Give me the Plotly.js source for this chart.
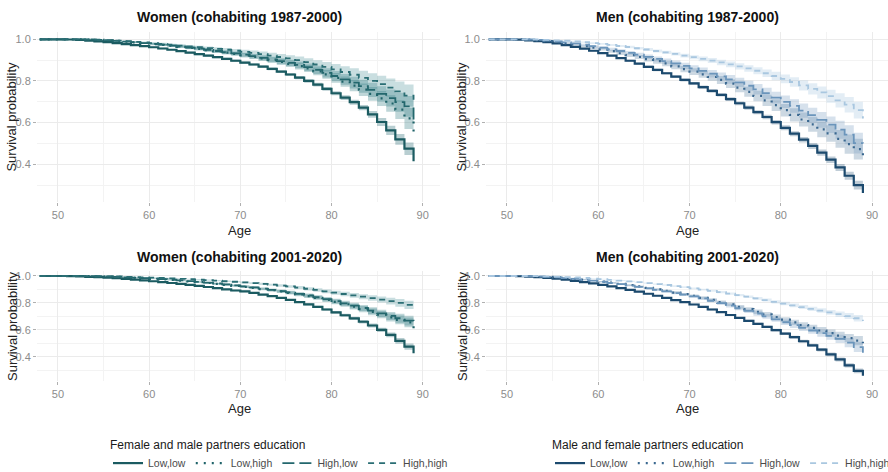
<!DOCTYPE html>
<html>
<head>
<meta charset="utf-8">
<script src="https://cdn.plot.ly/plotly-3.0.1.min.js"></script>
<style>
  html, body { margin: 0; padding: 0; background: #ffffff; }
  #chart { width: 888px; height: 472px; }
</style>
</head>
<body>
<div id="chart"></div>
<script>
// Age grid (years) at which the Kaplan-Meier steps are recorded
const AGES = [48,49,50,51,52,53,54,55,56,57,58,59,60,61,62,63,64,65,66,67,68,69,
              70,71,72,73,74,75,76,77,78,79,80,81,82,83,84,85,86,87,88,89];

const GROUPS = ['Low,low', 'Low,high', 'High,low', 'High,high'];

const PANEL_TITLES = ['Women (cohabiting 1987-2000)', 'Men (cohabiting 1987-2000)',
                      'Women (cohabiting 2001-2020)', 'Men (cohabiting 2001-2020)'];
const WOMEN_LEGEND_TITLE = 'Female and male partners education';
const MEN_LEGEND_TITLE = 'Male and female partners education';
const X_TITLE = 'Age';
const Y_TITLE = 'Survival probability';

// ---- Women, cohabiting 1987-2000: survival and 95% CI half-width ----
const women8700_lowlow = [1,1,1,0.999,0.997,0.994,0.99,0.986,0.982,0.977,0.972,0.967,0.962,0.956,0.95,0.943,0.936,0.929,0.922,0.914,0.906,0.897,0.888,0.879,0.869,0.858,0.845,0.831,0.816,0.8,0.782,0.762,0.741,0.72,0.698,0.672,0.64,0.603,0.563,0.52,0.475,0.415];
const women8700_lowlow_ci = [0,0,0,0.001,0.001,0.001,0.002,0.002,0.002,0.003,0.003,0.003,0.003,0.004,0.004,0.004,0.004,0.005,0.005,0.005,0.005,0.006,0.006,0.006,0.006,0.007,0.007,0.007,0.008,0.008,0.009,0.009,0.01,0.011,0.012,0.013,0.016,0.019,0.022,0.026,0.03,0.033];
const women8700_lowhigh = [1,1,1,1,1,0.999,0.997,0.995,0.992,0.989,0.985,0.981,0.977,0.973,0.969,0.964,0.959,0.954,0.948,0.942,0.936,0.93,0.923,0.916,0.908,0.9,0.891,0.882,0.871,0.86,0.846,0.832,0.815,0.797,0.778,0.758,0.738,0.716,0.692,0.662,0.62,0.555];
const women8700_lowhigh_ci = [0,0,0,0,0,0.001,0.002,0.002,0.003,0.003,0.004,0.004,0.005,0.005,0.006,0.006,0.007,0.007,0.008,0.008,0.009,0.009,0.01,0.011,0.012,0.013,0.014,0.015,0.016,0.017,0.019,0.021,0.023,0.025,0.027,0.03,0.033,0.036,0.04,0.045,0.05,0.055];
const women8700_highlow = [1,1,1,1,1,0.999,0.997,0.995,0.992,0.989,0.986,0.982,0.978,0.974,0.97,0.965,0.96,0.955,0.95,0.944,0.938,0.932,0.926,0.919,0.911,0.903,0.895,0.887,0.877,0.866,0.853,0.839,0.824,0.808,0.792,0.775,0.757,0.738,0.718,0.698,0.678,0.6];
const women8700_highlow_ci = [0,0,0,0,0,0.001,0.002,0.002,0.003,0.003,0.004,0.004,0.005,0.005,0.006,0.006,0.007,0.007,0.008,0.008,0.009,0.009,0.01,0.011,0.012,0.013,0.014,0.015,0.016,0.018,0.02,0.022,0.024,0.026,0.028,0.031,0.034,0.037,0.041,0.046,0.05,0.055];
const women8700_highhigh = [1,1,1,1,1,0.999,0.998,0.996,0.994,0.991,0.988,0.985,0.982,0.978,0.974,0.97,0.966,0.962,0.958,0.954,0.95,0.945,0.94,0.935,0.929,0.922,0.915,0.908,0.9,0.89,0.879,0.868,0.856,0.843,0.83,0.815,0.8,0.785,0.768,0.75,0.73,0.71];
const women8700_highhigh_ci = [0,0,0,0,0,0.001,0.001,0.002,0.002,0.003,0.003,0.004,0.004,0.005,0.005,0.006,0.006,0.007,0.007,0.008,0.008,0.009,0.01,0.011,0.012,0.013,0.014,0.015,0.017,0.019,0.021,0.023,0.025,0.028,0.031,0.034,0.037,0.04,0.044,0.048,0.053,0.058];

// ---- Men, cohabiting 1987-2000 ----
const men8700_lowlow = [1,1,1,0.998,0.995,0.991,0.986,0.98,0.972,0.964,0.955,0.945,0.934,0.922,0.91,0.897,0.883,0.868,0.853,0.837,0.821,0.805,0.788,0.77,0.752,0.733,0.713,0.693,0.672,0.65,0.627,0.602,0.575,0.547,0.518,0.488,0.456,0.422,0.385,0.345,0.3,0.262];
const men8700_lowlow_ci = [0,0,0,0.001,0.001,0.002,0.002,0.002,0.003,0.003,0.003,0.004,0.004,0.004,0.005,0.005,0.005,0.006,0.006,0.006,0.007,0.007,0.007,0.008,0.008,0.008,0.009,0.009,0.01,0.01,0.011,0.011,0.012,0.012,0.013,0.014,0.015,0.016,0.017,0.019,0.021,0.024];
const men8700_lowhigh = [1,1,1,1,0.998,0.995,0.991,0.986,0.98,0.974,0.967,0.96,0.952,0.943,0.933,0.924,0.915,0.905,0.895,0.884,0.87,0.857,0.845,0.832,0.819,0.805,0.787,0.768,0.748,0.728,0.707,0.684,0.66,0.637,0.615,0.592,0.568,0.548,0.522,0.497,0.473,0.415];
const men8700_lowhigh_ci = [0,0,0,0,0.001,0.002,0.002,0.003,0.004,0.004,0.005,0.006,0.006,0.007,0.008,0.009,0.01,0.011,0.012,0.013,0.014,0.015,0.016,0.017,0.018,0.019,0.021,0.022,0.024,0.025,0.027,0.028,0.03,0.032,0.034,0.036,0.038,0.04,0.043,0.046,0.05,0.055];
const men8700_highlow = [1,1,1,1,0.999,0.997,0.994,0.99,0.985,0.98,0.974,0.967,0.96,0.952,0.944,0.935,0.926,0.916,0.906,0.895,0.884,0.872,0.86,0.848,0.835,0.822,0.808,0.793,0.777,0.76,0.741,0.72,0.7,0.68,0.658,0.636,0.613,0.59,0.566,0.542,0.502,0.5];
const men8700_highlow_ci = [0,0,0,0,0.001,0.002,0.002,0.003,0.004,0.004,0.005,0.006,0.006,0.007,0.008,0.009,0.01,0.011,0.012,0.013,0.014,0.015,0.016,0.017,0.018,0.019,0.021,0.022,0.024,0.025,0.027,0.028,0.03,0.032,0.034,0.036,0.038,0.04,0.043,0.046,0.05,0.055];
const men8700_highhigh = [1,1,1,1,1,0.999,0.997,0.995,0.993,0.99,0.986,0.982,0.978,0.973,0.968,0.963,0.957,0.951,0.944,0.937,0.93,0.922,0.914,0.906,0.898,0.889,0.88,0.87,0.86,0.849,0.837,0.824,0.81,0.795,0.779,0.762,0.745,0.727,0.707,0.686,0.66,0.62];
const men8700_highhigh_ci = [0,0,0,0,0,0.001,0.001,0.002,0.002,0.003,0.003,0.004,0.004,0.005,0.005,0.006,0.006,0.007,0.007,0.008,0.008,0.009,0.01,0.011,0.012,0.013,0.014,0.015,0.016,0.017,0.018,0.02,0.021,0.023,0.025,0.027,0.029,0.031,0.034,0.037,0.04,0.044];

// ---- Women, cohabiting 2001-2020 ----
const women0120_lowlow = [1,1,1,0.999,0.997,0.994,0.991,0.987,0.983,0.978,0.973,0.967,0.961,0.955,0.948,0.941,0.934,0.926,0.918,0.91,0.901,0.892,0.885,0.874,0.862,0.85,0.837,0.822,0.806,0.789,0.771,0.751,0.73,0.708,0.685,0.66,0.632,0.6,0.562,0.518,0.475,0.425];
const women0120_lowlow_ci = [0,0,0,0.001,0.001,0.001,0.001,0.002,0.002,0.002,0.002,0.003,0.003,0.003,0.003,0.004,0.004,0.004,0.004,0.005,0.005,0.005,0.005,0.006,0.006,0.006,0.007,0.007,0.007,0.008,0.008,0.009,0.01,0.011,0.012,0.013,0.014,0.016,0.018,0.021,0.024,0.027];
const women0120_lowhigh = [1,1,1,1,1,0.999,0.997,0.995,0.993,0.99,0.987,0.983,0.979,0.975,0.97,0.965,0.96,0.954,0.948,0.941,0.934,0.927,0.919,0.911,0.903,0.894,0.885,0.875,0.863,0.851,0.838,0.823,0.807,0.79,0.772,0.753,0.733,0.712,0.692,0.674,0.655,0.612];
const women0120_lowhigh_ci = [0,0,0,0,0,0.001,0.001,0.002,0.002,0.002,0.003,0.003,0.003,0.004,0.004,0.005,0.005,0.005,0.006,0.006,0.007,0.007,0.008,0.008,0.009,0.01,0.011,0.012,0.013,0.014,0.015,0.016,0.018,0.019,0.021,0.023,0.025,0.027,0.03,0.033,0.036,0.04];
const women0120_highlow = [1,1,1,1,1,0.999,0.998,0.996,0.993,0.99,0.987,0.984,0.98,0.976,0.972,0.967,0.962,0.956,0.95,0.944,0.937,0.93,0.923,0.915,0.906,0.897,0.888,0.878,0.867,0.855,0.842,0.828,0.813,0.797,0.78,0.762,0.743,0.722,0.703,0.686,0.668,0.665];
const women0120_highlow_ci = [0,0,0,0,0,0.001,0.001,0.002,0.002,0.002,0.003,0.003,0.003,0.004,0.004,0.005,0.005,0.005,0.006,0.006,0.007,0.007,0.008,0.008,0.009,0.01,0.011,0.012,0.013,0.014,0.015,0.016,0.018,0.019,0.021,0.023,0.025,0.027,0.03,0.033,0.036,0.04];
const women0120_highhigh = [1,1,1,1,1,0.999,0.998,0.997,0.996,0.994,0.992,0.99,0.988,0.985,0.982,0.979,0.976,0.972,0.969,0.965,0.961,0.957,0.952,0.947,0.941,0.935,0.929,0.922,0.914,0.905,0.896,0.886,0.876,0.866,0.856,0.846,0.836,0.825,0.813,0.8,0.785,0.765];
const women0120_highhigh_ci = [0,0,0,0,0,0.001,0.001,0.001,0.002,0.002,0.002,0.003,0.003,0.003,0.004,0.004,0.004,0.005,0.005,0.005,0.006,0.006,0.007,0.007,0.008,0.008,0.009,0.01,0.011,0.012,0.013,0.014,0.015,0.016,0.017,0.019,0.021,0.023,0.025,0.028,0.031,0.034];

// ---- Men, cohabiting 2001-2020 ----
const men0120_lowlow = [1,1,1,0.998,0.995,0.991,0.986,0.98,0.972,0.964,0.955,0.945,0.934,0.922,0.91,0.897,0.883,0.868,0.853,0.837,0.821,0.805,0.788,0.77,0.751,0.731,0.71,0.688,0.666,0.644,0.622,0.597,0.572,0.545,0.515,0.485,0.452,0.418,0.38,0.335,0.295,0.258];
const men0120_lowlow_ci = [0,0,0,0.001,0.001,0.001,0.002,0.002,0.002,0.003,0.003,0.003,0.003,0.004,0.004,0.004,0.005,0.005,0.005,0.005,0.006,0.006,0.006,0.007,0.007,0.007,0.008,0.008,0.008,0.009,0.009,0.01,0.01,0.011,0.011,0.012,0.013,0.014,0.015,0.016,0.018,0.02];
const men0120_lowhigh = [1,1,1,1,0.998,0.996,0.993,0.989,0.984,0.979,0.973,0.966,0.958,0.95,0.941,0.932,0.922,0.911,0.9,0.889,0.877,0.865,0.853,0.838,0.822,0.806,0.789,0.771,0.753,0.734,0.715,0.695,0.675,0.655,0.635,0.615,0.595,0.575,0.556,0.538,0.52,0.5];
const men0120_lowhigh_ci = [0,0,0,0,0.001,0.001,0.002,0.002,0.003,0.003,0.004,0.004,0.005,0.005,0.006,0.006,0.007,0.007,0.008,0.008,0.009,0.009,0.01,0.011,0.012,0.012,0.013,0.014,0.015,0.016,0.017,0.018,0.019,0.02,0.022,0.023,0.025,0.027,0.029,0.031,0.034,0.037];
const men0120_highlow = [1,1,1,1,0.998,0.996,0.993,0.989,0.984,0.978,0.972,0.965,0.957,0.948,0.939,0.929,0.919,0.908,0.897,0.885,0.873,0.861,0.849,0.833,0.816,0.798,0.779,0.76,0.741,0.721,0.7,0.678,0.656,0.635,0.615,0.595,0.575,0.555,0.532,0.505,0.472,0.43];
const men0120_highlow_ci = [0,0,0,0,0.001,0.001,0.002,0.002,0.003,0.003,0.004,0.004,0.005,0.005,0.006,0.006,0.007,0.007,0.008,0.008,0.009,0.009,0.01,0.011,0.012,0.013,0.014,0.015,0.016,0.017,0.018,0.019,0.02,0.021,0.023,0.025,0.027,0.029,0.031,0.034,0.037,0.04];
const men0120_highhigh = [1,1,1,1,1,0.999,0.997,0.995,0.992,0.989,0.985,0.981,0.976,0.971,0.966,0.96,0.954,0.947,0.94,0.933,0.925,0.917,0.908,0.899,0.89,0.88,0.869,0.858,0.846,0.834,0.821,0.808,0.795,0.782,0.769,0.756,0.743,0.73,0.716,0.702,0.686,0.665];
const men0120_highhigh_ci = [0,0,0,0,0,0.001,0.001,0.001,0.002,0.002,0.002,0.003,0.003,0.003,0.004,0.004,0.004,0.005,0.005,0.005,0.006,0.006,0.006,0.007,0.007,0.008,0.008,0.009,0.009,0.01,0.011,0.012,0.013,0.014,0.015,0.016,0.017,0.018,0.02,0.022,0.024,0.026];

// Line styles per education combination
const DASHES = ['solid', '2px,6px', '12px,5px', '6px,5px'];
const WIDTHS = [2.2, 2.2, 1.8, 1.8];

const WOMEN_LINE = ['#1b5b61', '#1f6369', '#23676d', '#2a6e74'];
const WOMEN_FILL = ['rgba(34,104,111,0.32)', 'rgba(42,118,125,0.30)', 'rgba(42,118,125,0.30)', 'rgba(60,135,142,0.28)'];
const MEN_LINE = ['#1c4a6e', '#3a6890', '#6b95bb', '#a9c7e0'];
const MEN_FILL = ['rgba(28,74,110,0.28)', 'rgba(58,104,144,0.26)', 'rgba(107,149,187,0.28)', 'rgba(169,199,224,0.32)'];

const panels = [
  { xa: 'x',  ya: 'y',  legend: 'legend',  top: true,  line: WOMEN_LINE, fill: WOMEN_FILL,
    surv: [women8700_lowlow, women8700_lowhigh, women8700_highlow, women8700_highhigh],
    ci:   [women8700_lowlow_ci, women8700_lowhigh_ci, women8700_highlow_ci, women8700_highhigh_ci] },
  { xa: 'x2', ya: 'y2', legend: 'legend2', top: true,  line: MEN_LINE, fill: MEN_FILL,
    surv: [men8700_lowlow, men8700_lowhigh, men8700_highlow, men8700_highhigh],
    ci:   [men8700_lowlow_ci, men8700_lowhigh_ci, men8700_highlow_ci, men8700_highhigh_ci] },
  { xa: 'x3', ya: 'y3', legend: 'legend',  top: false, line: WOMEN_LINE, fill: WOMEN_FILL,
    surv: [women0120_lowlow, women0120_lowhigh, women0120_highlow, women0120_highhigh],
    ci:   [women0120_lowlow_ci, women0120_lowhigh_ci, women0120_highlow_ci, women0120_highhigh_ci] },
  { xa: 'x4', ya: 'y4', legend: 'legend2', top: false, line: MEN_LINE, fill: MEN_FILL,
    surv: [men0120_lowlow, men0120_lowhigh, men0120_highlow, men0120_highhigh],
    ci:   [men0120_lowlow_ci, men0120_lowhigh_ci, men0120_highlow_ci, men0120_highhigh_ci] }
];

const traces = [];
panels.forEach(p => {
  // confidence ribbons first, so the survival lines sit on top
  GROUPS.forEach((g, k) => {
    const s = p.surv[k], c = p.ci[k];
    const upper = s.map((v, i) => Math.min(1, v + c[i]));
    const lower = s.map((v, i) => v - c[i]);
    traces.push({ x: AGES, y: upper, xaxis: p.xa, yaxis: p.ya, mode: 'lines',
      line: { width: 0, shape: 'hv' }, showlegend: false, hoverinfo: 'skip' });
    traces.push({ x: AGES, y: lower, xaxis: p.xa, yaxis: p.ya, mode: 'lines',
      line: { width: 0, shape: 'hv' }, fill: 'tonexty', fillcolor: p.fill[k],
      showlegend: false, hoverinfo: 'skip' });
  });
  GROUPS.forEach((g, k) => {
    traces.push({ x: AGES, y: p.surv[k], xaxis: p.xa, yaxis: p.ya, mode: 'lines', name: g,
      line: { color: p.line[k], width: WIDTHS[k], dash: DASHES[k], shape: 'hv' },
      legend: p.legend, legendgroup: p.legend + g, showlegend: p.top });
  });
});

const W = 888, H = 472;
const px = v => v / W;
const py = v => 1 - v / H;

const FONT = '"Liberation Sans", Arial, sans-serif';
const GRID = '#ebebeb';

function xAxis(domain, range, anchor) {
  return { domain, range, anchor, tickvals: [50, 60, 70, 80, 90],
    showgrid: true, gridcolor: GRID, gridwidth: 1,
    minor: { dtick: 5, tick0: 50, showgrid: true, gridcolor: '#f3f3f3', gridwidth: 1, ticks: '' },
    zeroline: false, showline: false, ticks: 'outside', ticklen: 3, tickcolor: '#b0b0b0',
    tickfont: { family: FONT, size: 11, color: '#8c8c8c' }, fixedrange: true, automargin: false };
}
function yAxis(domain, anchor) {
  return { domain, range: [0.221, 1.037], anchor, tickvals: [0.4, 0.6, 0.8, 1.0],
    ticktext: ['0.4', '0.6', '0.8', '1.0'],
    showgrid: true, gridcolor: GRID, gridwidth: 1,
    minor: { tickvals: [0.3, 0.5, 0.7, 0.9], showgrid: true, gridcolor: '#f3f3f3', gridwidth: 1, ticks: '' },
    zeroline: false, showline: false, ticks: 'outside', ticklen: 3, tickcolor: '#b0b0b0',
    tickfont: { family: FONT, size: 11, color: '#8c8c8c' }, fixedrange: true, automargin: false };
}

const womenX = [px(37), px(440)], menX = [px(486), 1];
const topY = [py(201.6), py(31.6)], botY = [py(380.8), py(271)];

const annotations = [];
const panelCentres = [[239, 16.7], [687, 16.7], [239, 256.7], [687, 256.7]];
PANEL_TITLES.forEach((t, i) => annotations.push({
  text: '<b>' + t + '</b>', xref: 'paper', yref: 'paper', x: px(panelCentres[i][0]), y: py(panelCentres[i][1]),
  xanchor: 'center', yanchor: 'middle', showarrow: false, font: { family: FONT, size: 14, color: '#111' } }));
[[239, 230], [687, 230], [239, 408], [687, 408]].forEach(c => annotations.push({
  text: X_TITLE, xref: 'paper', yref: 'paper', x: px(c[0]), y: py(c[1]),
  xanchor: 'center', yanchor: 'middle', showarrow: false, font: { family: FONT, size: 13, color: '#222' } }));
[[12, 116.6], [462, 116.6], [12, 326], [462, 326]].forEach(c => annotations.push({
  text: Y_TITLE, xref: 'paper', yref: 'paper', x: px(c[0]), y: py(c[1]), textangle: -90,
  xanchor: 'center', yanchor: 'middle', showarrow: false, font: { family: FONT, size: 13, color: '#222' } }));

function legendBox(x, title) {
  return { x, y: py(433), xref: 'container', yref: 'container', xanchor: 'left', yanchor: 'top',
    orientation: 'h', bgcolor: 'rgba(0,0,0,0)', borderwidth: 0, itemwidth: 30, tracegroupgap: 0,
    title: { text: title, side: 'top', font: { family: FONT, size: 12, color: '#1a1a1a' } },
    font: { family: FONT, size: 10.5, color: '#4a4a4a' } };
}

const layout = {
  width: W, height: H, margin: { l: 0, r: 0, t: 0, b: 0, autoexpand: false },
  paper_bgcolor: '#ffffff', plot_bgcolor: '#ffffff',
  font: { family: FONT },
  xaxis:  xAxis(womenX, [47.7, 91.9], 'y'),
  yaxis:  yAxis(topY, 'x'),
  xaxis2: xAxis(menX, [47.7, 91.75], 'y2'),
  yaxis2: yAxis(topY, 'x2'),
  xaxis3: xAxis(womenX, [47.7, 91.9], 'y3'),
  yaxis3: yAxis(botY, 'x3'),
  xaxis4: xAxis(menX, [47.7, 91.75], 'y4'),
  yaxis4: yAxis(botY, 'x4'),
  legend: legendBox(px(108), WOMEN_LEGEND_TITLE),
  legend2: legendBox(px(550), MEN_LEGEND_TITLE),
  annotations,
  showlegend: true
};

Plotly.newPlot('chart', traces, layout, { displayModeBar: false, staticPlot: true });
</script>
</body>
</html>
